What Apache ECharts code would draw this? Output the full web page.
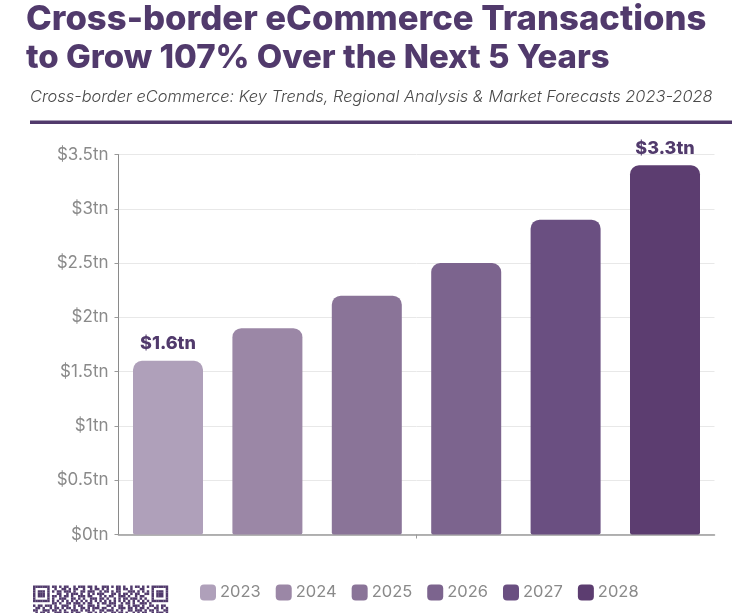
<!DOCTYPE html>
<html><head><meta charset="utf-8">
<style>html,body{margin:0;padding:0;background:#fff}#c{width:747px;height:613px}</style>
<script src="https://cdn.jsdelivr.net/npm/echarts@6/dist/echarts.min.js"></script>
</head><body><div id="c"></div>
<script>
const years = ['2023','2024','2025','2026','2027','2028'];
const values = [1.6,1.9,2.2,2.5,2.9,3.4];
const colors = ['#afa0ba','#9b87a6','#8a7498','#7c648e','#6a4f81','#5c3d70'];
const valueLabels = ['$1.6tn','','','','','$3.3tn'];
const category = ['Transactions'];
const titleLines = ['Cross-border eCommerce Transactions','to Grow 107% Over the Next 5 Years'];
const subtitle = 'Cross-border eCommerce: Key Trends, Regional Analysis & Market Forecasts 2023-2028';
const purple = '#513a6c';
// decorative QR code, top part only (cut off by the page edge)
const qrRows = [
'#######.##.#.##..#.###.##.#..###.#.##.#..#.##.#.#.#######',
'#.....#..#..##.#.##..#..#.##.#.#...##.##.#...##...#.....#',
'#.###.#.#.##.###.#..##.###..#.##.#.##...###.#.#.#.#.###.#',
'#.###.#...##..#.###.#..#.#.###...##.#.##.#.##..##.#.###.#',
'#.###.#.##.#.##.#..###.##...#.#.##..###.#..#.##...#.###.#',
'#.....#.#..###..##.#.#..###.##.#..#.#.##.###.#.#..#.....#',
'#######.#.#.#.#.#.#.#.#.#.#.#.#.#.#.#.#.#.#.#.#.#.#######',
'........##.#..##.###.#.##..#.##.###..#.##.#..###.#.......',
'#.##.###.#..###..#.##..###.#...##.#.##..#.###.#..##.#.##.',
'.##.#..#.##.#.##.#..##.#.###.##..#..###.##.#.##.#..##.#.#',
'##..###.##.#.#..###.#.##.#..##.###.#.#..##.###.#.##.#..##',
'.#.##.#..###.##.#.##...##.#.#.#..##.##.#..#.#.##..#.###.#'
];
const qrX = 33, qrY = 585.5, qrCell = 2.37;
const qrRects = [];
qrRows.forEach((row,r)=>{ [...row].forEach((ch,c)=>{ if(ch==='#') qrRects.push({
  type:'rect',shape:{x:qrX+c*qrCell,y:qrY+r*qrCell,width:qrCell+0.1,height:qrCell+0.1},style:{fill:purple},silent:true}); }); });
const chart = echarts.init(document.getElementById('c'));
chart.setOption({
  animation:false,
  textStyle:{fontFamily:'Inter'},
  title:[
    {text:titleLines[0],left:26,top:2,padding:0,textStyle:{fontFamily:'Inter',fontWeight:800,fontSize:34.7,color:purple}},
    {text:titleLines[1],left:26,top:42,padding:0,textStyle:{fontFamily:'Inter',fontWeight:800,fontSize:33,color:purple}},
    {text:subtitle,left:30,top:89,padding:0,textStyle:{fontFamily:'Inter',fontStyle:'italic',fontWeight:300,fontSize:16.4,color:'#4a4a4a'}}
  ],
  graphic:[{type:'rect',shape:{x:30,y:120.5,width:702,height:3.5},style:{fill:purple}}].concat(qrRects),
  legend:{left:195,top:579,itemWidth:16,itemHeight:16,itemGap:15,icon:'roundRect',
    data:years,textStyle:{fontFamily:'Inter',fontSize:16.5,color:'#8a8a8a',padding:[0,0,0,-1]}},
  grid:{left:118.5,right:32.5,top:154.5,height:380,containLabel:false},
  xAxis:{type:'category',data:category,axisLabel:{show:false},
    axisLine:{lineStyle:{color:'#9a9a9a',width:1.5}},axisTick:{show:true,alignWithLabel:true,length:4,lineStyle:{color:'#9a9a9a'}}},
  yAxis:{type:'value',min:0,max:3.5,interval:0.5,
    axisLabel:{formatter:v=>'$'+v+'tn',fontFamily:'Inter',fontSize:17,color:'#8a8a8a',margin:10,padding:[4,0,0,0]},
    axisLine:{show:true,lineStyle:{color:'#8a8a8a',width:1}},axisTick:{show:true,length:4,lineStyle:{color:'#9a9a9a'}},
    splitLine:{lineStyle:{color:'#e8e8e8'}}},
  series:years.map((y,i)=>({
    name:y,type:'bar',barWidth:70,barGap:'42%',
    data:[values[i]],
    itemStyle:{color:colors[i],borderRadius:[9,9,2,2]},
    label:{show:!!valueLabels[i],position:'top',distance:8,formatter:valueLabels[i],
      fontFamily:'Inter',fontWeight:800,fontSize:18,color:purple}
  }))
});
</script></body></html>
